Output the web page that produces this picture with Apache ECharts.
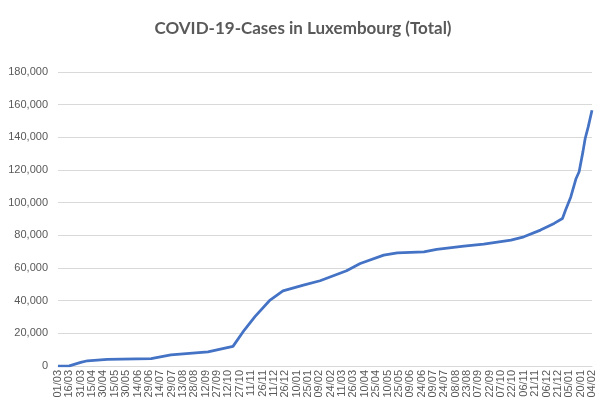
<!DOCTYPE html>
<html>
<head>
<meta charset="utf-8">
<script src="https://cdn.jsdelivr.net/npm/echarts@6/dist/echarts.min.js"></script>
<style>
  html, body { margin: 0; padding: 0; background: #fff; }
  #main { width: 606px; height: 411px; }
</style>
</head>
<body>
<div id="main"></div>
<script>
// first and last day on the category axis
const startDay = "2020-03-01";
const endDay = "2022-02-04";

// total cases at some dates
const caseDates = [
    "2020-03-01", "2020-03-16", "2020-03-31", "2020-04-09", "2020-05-05",
    "2020-07-02", "2020-07-28", "2020-09-15", "2020-10-18", "2020-11-02",
    "2020-11-16", "2020-12-06", "2020-12-23", "2021-01-19", "2021-02-10",
    "2021-03-17", "2021-04-04", "2021-05-05", "2021-05-23", "2021-06-27",
    "2021-07-14", "2021-08-19", "2021-09-14", "2021-10-20", "2021-11-06",
    "2021-11-28", "2021-12-16", "2021-12-27", "2021-12-31", "2022-01-07",
    "2022-01-14", "2022-01-18", "2022-01-23", "2022-01-26", "2022-01-30",
    "2022-02-04"
];
const caseTotals = [
    0, 100, 2200, 3200, 4000,
    4500, 6800, 8700, 12000, 22000,
    30200, 40400, 46000, 49500, 52200,
    58300, 62800, 67900, 69300, 69900,
    71400, 73400, 74600, 77100, 79100,
    83200, 87300, 90300, 95400, 103500,
    114800, 118900, 131100, 139300, 146400,
    156600
];

// y axis
const yMin = 0;
const yMax = 180000;
const yStep = 20000;

// one category per day
function dayList(from, to){
    let out = [];
    let d = new Date(from + "T00:00:00Z");
    let last = new Date(to + "T00:00:00Z");
    while (d <= last) {
        out.push(d.toISOString().slice(0, 10));
        d.setUTCDate(d.getUTCDate() + 1);
    }
    return out;
}
const days = dayList(startDay, endDay);

let points = [];
for (let i = 0; i < caseDates.length; i++) {
    points.push([caseDates[i], caseTotals[i]]);
}

var myChart = echarts.init(document.getElementById('main'));
var option = {
    backgroundColor: '#ffffff',
    animation: false,
    title: {
        text: 'COVID-19-Cases in Luxembourg (Total)',
        left: 'center',
        top: 15,
        textStyle: {
            fontFamily: 'Lato',
            fontSize: 17,
            fontWeight: 'bold',
            color: '#595959'
        }
    },
    grid: {
        left: 58,
        right: 14,
        top: 72,
        bottom: 45
    },
    xAxis: {
        type: 'category',
        data: days,
        boundaryGap: false,
        axisLine: { lineStyle: { color: '#d9d9d9' } },
        axisTick: { show: false },
        axisLabel: {
            interval: 14,
            rotate: 90,
            fontFamily: 'Liberation Sans',
            fontSize: 11,
            color: '#595959',
            margin: 4,
            formatter: function(v){
                return v.slice(8, 10) + '/' + v.slice(5, 7);
            }
        },
        splitLine: { show: false }
    },
    yAxis: {
        type: 'value',
        min: yMin,
        max: yMax,
        interval: yStep,
        axisLine: { show: false },
        axisTick: { show: false },
        axisLabel: {
            fontFamily: 'Liberation Sans',
            fontSize: 11,
            color: '#595959',
            margin: 10,
            formatter: function(v){
                return v.toLocaleString('en-US');
            }
        },
        splitLine: { lineStyle: { color: '#d9d9d9', width: 1 } }
    },
    series: [
        {
            name: 'Total',
            type: 'line',
            data: points,
            showSymbol: false,
            lineStyle: { color: '#4472c4', width: 2.75 },
            itemStyle: { color: '#4472c4' }
        }
    ]
};
myChart.setOption(option);
</script>
</body>
</html>
